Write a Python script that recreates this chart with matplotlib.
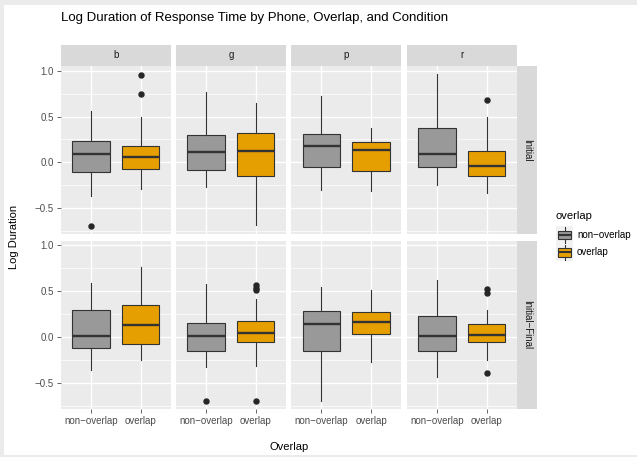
import numpy as np
import matplotlib
matplotlib.use("Agg")
import matplotlib.pyplot as plt
from matplotlib.patches import Rectangle

plt.rcParams['font.family'] = ['Liberation Sans', 'DejaVu Sans']

phones = ['b', 'g', 'p', 'r']
conditions = ['Initial', 'Initial\u2212Final']
overlaps = ['non\u2212overlap', 'overlap']
fills = ['#999999', '#E69F00']

# (whislo, q1, med, q3, whishi) per phone
initial_non = [(-0.37, -0.109, 0.09, 0.236, 0.56), (-0.27, -0.09, 0.116, 0.30, 0.764),
               (-0.31, -0.05, 0.174, 0.308, 0.725), (-0.246, -0.05, 0.087, 0.37, 0.97)]
initial_ovl = [(-0.29, -0.08, 0.054, 0.174, 0.49), (-0.69, -0.152, 0.12, 0.319, 0.652),
               (-0.32, -0.10, 0.13, 0.225, 0.37), (-0.337, -0.149, -0.04, 0.123, 0.50)]
final_non = [(-0.355, -0.12, 0.015, 0.30, 0.594), (-0.33, -0.149, 0.015, 0.152, 0.583),
             (-0.70, -0.156, 0.145, 0.29, 0.547), (-0.435, -0.152, 0.015, 0.228, 0.62)]
final_ovl = [(-0.254, -0.076, 0.134, 0.348, 0.764), (-0.31, -0.054, 0.047, 0.174, 0.413),
             (-0.275, 0.033, 0.16, 0.279, 0.518), (-0.254, -0.05, 0.025, 0.138, 0.293)]

initial_non_out = [[-0.70], [], [], []]
initial_ovl_out = [[0.95, 0.746], [], [], [0.685]]
final_non_out = [[], [-0.70], [], []]
final_ovl_out = [[], [0.57, 0.54, 0.51, -0.70], [], [0.522, 0.478, -0.39]]

stats = {
    (0, 0): (initial_non, initial_non_out), (0, 1): (initial_ovl, initial_ovl_out),
    (1, 0): (final_non, final_non_out), (1, 1): (final_ovl, final_ovl_out),
}

# y range with 5% expansion like ggplot
allv = []
for (s, o) in stats.values():
    for t, ol in zip(s, o):
        allv += list(t) + ol
lo, hi = min(allv), max(allv)
pad = 0.05 * (hi - lo)
ylim = (lo - pad, hi + pad)

W, H = 637, 457
fig = plt.figure(figsize=(W / 100, H / 100), dpi=100)
fig.patch.set_facecolor('#EBEBEB')
fig.add_artist(Rectangle((4 / W, 2 / H), 1, 1 - 7 / H, transform=fig.transFigure,
                         facecolor='white', edgecolor='none', zorder=-10))


def px_axes(l, t, r, b):
    return fig.add_axes([l / W, 1 - b / H, (r - l) / W, (b - t) / H])


col_left = [61, 176, 291.3, 407]
pw = 109.7
rows = [(66, 233.7), (240.5, 409)]
tick_col = '#4D4D4D'
edge = '#333333'

for ri, (top, bot) in enumerate(rows):
    for ci, ph in enumerate(phones):
        ax = px_axes(col_left[ci], top, col_left[ci] + pw, bot)
        ax.set_facecolor('#EBEBEB')
        for sp in ax.spines.values():
            sp.set_visible(False)
        for oi in range(2):
            s, o = stats[(ri, oi)]
            wl, q1, md, q3, wh = s[ci]
            d = dict(whislo=wl, q1=q1, med=md, q3=q3, whishi=wh, fliers=o[ci])
            ax.bxp([d], positions=[oi + 1], widths=0.75, patch_artist=True,
                   showcaps=False, manage_ticks=False,
                   boxprops=dict(facecolor=fills[oi], edgecolor=edge, lw=0.8),
                   medianprops=dict(color=edge, lw=1.7),
                   whiskerprops=dict(color=edge, lw=0.8),
                   flierprops=dict(marker='o', markerfacecolor='#262626',
                                   markeredgecolor='#262626', markersize=3.6))
        ax.set_xlim(0.4, 2.6)
        ax.set_ylim(*ylim)
        ax.set_yticks([-0.5, 0.0, 0.5, 1.0])
        ax.set_yticks([-0.75, -0.25, 0.25, 0.75], minor=True)
        ax.set_xticks([1, 2])
        ax.grid(True, which='major', color='white', lw=1.0)
        ax.grid(True, which='minor', axis='y', color='white', lw=0.5)
        ax.set_axisbelow(True)
        ax.tick_params(which='minor', length=0)
        ax.tick_params(which='major', length=3, width=0.6, color=tick_col,
                       labelsize=7, labelcolor=tick_col, pad=2)
        if ci == 0:
            ax.set_yticklabels(['\u22120.5', '0.0', '0.5', '1.0'])
        else:
            ax.tick_params(axis='y', length=0, labelleft=False)
        if ri == 1:
            ax.set_xticklabels(overlaps)
        else:
            ax.tick_params(axis='x', length=0, labelbottom=False)

        if ri == 0:
            sa = px_axes(col_left[ci], 45, col_left[ci] + pw, 66)
            sa.set_facecolor('#D9D9D9')
            sa.set_xticks([]); sa.set_yticks([])
            for sp in sa.spines.values():
                sp.set_visible(False)
            sa.text(0.5, 0.5, ph, ha='center', va='center', fontsize=7,
                    color='#1A1A1A', transform=sa.transAxes)

    sa = px_axes(516.7, top, 536.7, bot)
    sa.set_facecolor('#D9D9D9')
    sa.set_xticks([]); sa.set_yticks([])
    for sp in sa.spines.values():
        sp.set_visible(False)
    sa.text(0.5, 0.5, conditions[ri], ha='center', va='center', rotation=-90,
            fontsize=7, color='#1A1A1A', transform=sa.transAxes)

fig.text(61 / W, 1 - 18 / H, 'Log Duration of Response Time by Phone, Overlap, and Condition',
         ha='left', va='center', fontsize=9.5, color='black')
fig.text(289 / W, 1 - 447 / H, 'Overlap', ha='center', va='center', fontsize=8, color='black')
fig.text(14 / W, 1 - 237 / H, 'Log Duration', ha='center', va='center', rotation=90,
         fontsize=8, color='black')

# legend
fig.text(555 / W, 1 - 216.5 / H, 'overlap', ha='left', va='center', fontsize=8, color='black')
for k, (lab, fc) in enumerate(zip(overlaps, fills)):
    yc = 235 + 17.3 * k
    ka = px_axes(556, yc - 8.6, 573.3, yc + 8.6)
    ka.set_facecolor('#F2F2F2')
    for sp in ka.spines.values():
        sp.set_visible(False)
    ka.bxp([dict(whislo=0.05, q1=0.25, med=0.5, q3=0.75, whishi=0.95, fliers=[])],
           positions=[0.5], widths=0.75, patch_artist=True, showcaps=False,
           manage_ticks=False,
           boxprops=dict(facecolor=fc, edgecolor=edge, lw=0.8),
           medianprops=dict(color=edge, lw=1.5),
           whiskerprops=dict(color=edge, lw=0.8))
    ka.set_xlim(0, 1); ka.set_ylim(0, 1)
    ka.set_xticks([]); ka.set_yticks([])
    fig.text(577 / W, 1 - yc / H, lab, ha='left', va='center', fontsize=7, color='black')

fig.savefig('out.png', dpi=100, facecolor=fig.get_facecolor())
